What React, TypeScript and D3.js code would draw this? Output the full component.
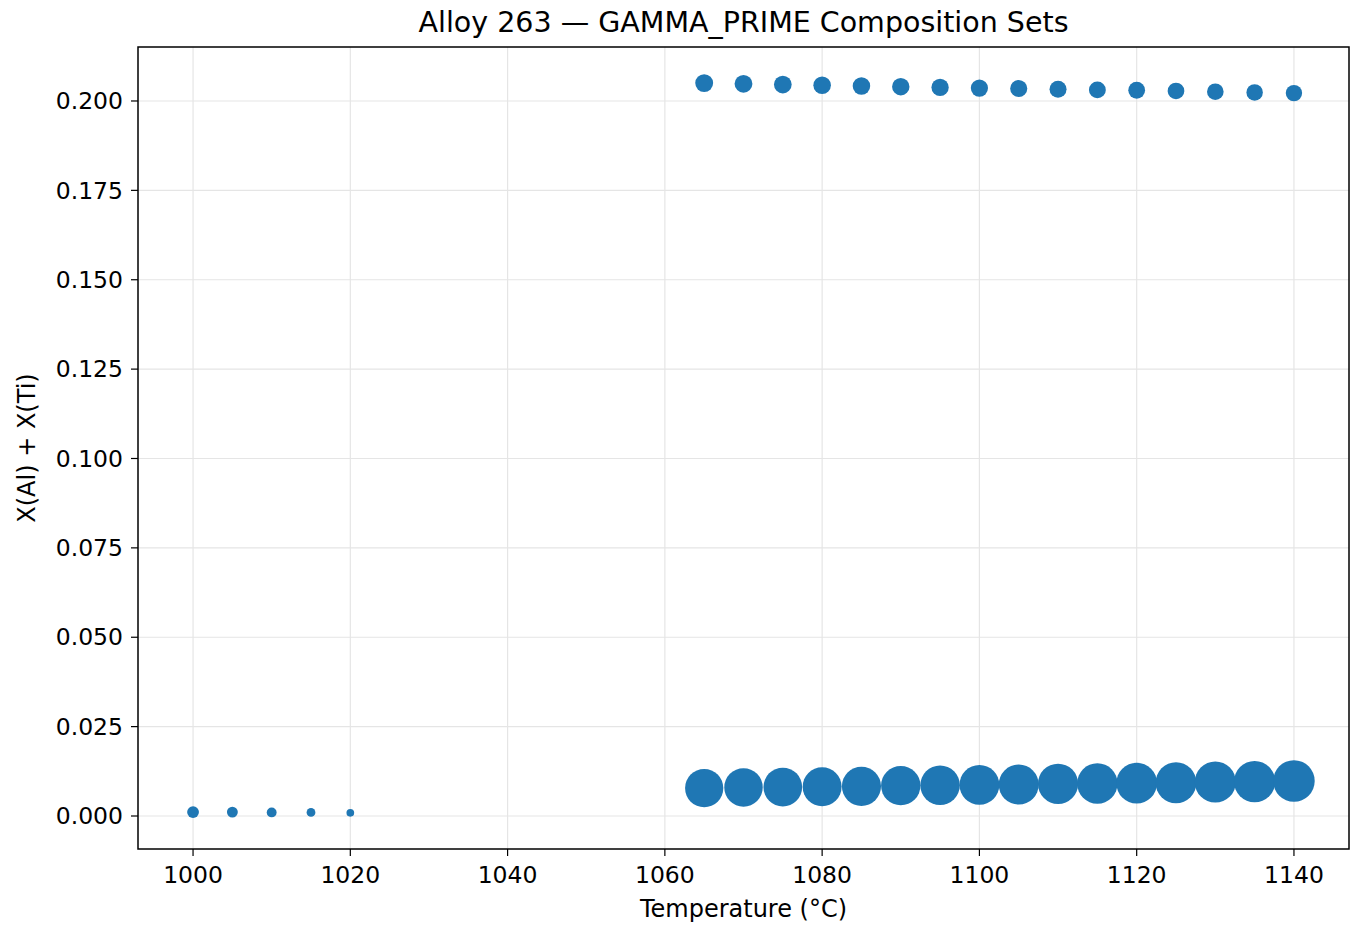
import * as d3 from "d3";

// temperatures (°C)
const lowTemps = [1000, 1005, 1010, 1015, 1020];
const lowX = [0.0011, 0.0011, 0.0010, 0.0010, 0.0009];
const lowFrac = [0.040, 0.034, 0.028, 0.022, 0.017];

const highTemps = [1065, 1070, 1075, 1080, 1085, 1090, 1095, 1100, 1105, 1110, 1115, 1120, 1125, 1130, 1135, 1140];
const setAX = [0.2050, 0.2048, 0.2046, 0.2044, 0.2042, 0.2040, 0.2038, 0.2036, 0.2035, 0.2033, 0.2031, 0.2030, 0.2028, 0.2026, 0.2024, 0.2022];
const setAFrac = [0.092, 0.091, 0.090, 0.089, 0.088, 0.087, 0.086, 0.085, 0.084, 0.083, 0.082, 0.081, 0.080, 0.079, 0.078, 0.077];
const setBX = [0.0078, 0.0080, 0.0081, 0.0082, 0.0083, 0.0085, 0.0086, 0.0087, 0.0088, 0.0090, 0.0091, 0.0092, 0.0093, 0.0095, 0.0096, 0.0098];
const setBFrac = [0.42, 0.425, 0.43, 0.435, 0.44, 0.445, 0.45, 0.455, 0.46, 0.465, 0.47, 0.475, 0.48, 0.485, 0.49, 0.495];

const xTicks = [1000, 1020, 1040, 1060, 1080, 1100, 1120, 1140];
const yTicks = [0, 0.025, 0.05, 0.075, 0.1, 0.125, 0.15, 0.175, 0.2];

export default function App() {
  const W = 1366, H = 935;
  const m = { left: 138, right: 1349, top: 47, bottom: 849 };
  const x = d3.scaleLinear().domain([993, 1147]).range([m.left, m.right]);
  const y = d3.scaleLinear().domain([-0.00923, 0.2151]).range([m.bottom, m.top]);
  const r = d3.scaleSqrt().domain([0, 1]).range([0, 29.5]);
  const color = "#1f77b4";
  const font = "DejaVu Sans, sans-serif";

  const pts = [
    ...lowTemps.map((t, i) => ({ t, v: lowX[i], f: lowFrac[i] })),
    ...highTemps.map((t, i) => ({ t, v: setAX[i], f: setAFrac[i] })),
    ...highTemps.map((t, i) => ({ t, v: setBX[i], f: setBFrac[i] })),
  ];

  return (
    <svg width={W} height={H} style={{ position: "absolute", left: 0, top: 0 }} fontFamily={font}>
      <rect width={W} height={H} fill="white" />
      <defs>
        <clipPath id="plot">
          <rect x={m.left} y={m.top} width={m.right - m.left} height={m.bottom - m.top} />
        </clipPath>
      </defs>
      {xTicks.map((t) => (
        <line key={"gx" + t} x1={x(t)} x2={x(t)} y1={m.top} y2={m.bottom} stroke="#e5e5e5" strokeWidth={1.2} />
      ))}
      {yTicks.map((t) => (
        <line key={"gy" + t} x1={m.left} x2={m.right} y1={y(t)} y2={y(t)} stroke="#e5e5e5" strokeWidth={1.2} />
      ))}
      <g clipPath="url(#plot)">
        {pts.map((p, i) => (
          <circle key={i} cx={x(p.t)} cy={y(p.v)} r={r(p.f)} fill={color} />
        ))}
      </g>
      <rect x={m.left} y={m.top} width={m.right - m.left} height={m.bottom - m.top} fill="none" stroke="black" strokeWidth={1.5} />
      {xTicks.map((t) => (
        <g key={"tx" + t}>
          <line x1={x(t)} x2={x(t)} y1={m.bottom} y2={m.bottom + 7} stroke="black" strokeWidth={1.2} />
          <text x={x(t)} y={m.bottom + 34} textAnchor="middle" fontSize={23.5}>{t}</text>
        </g>
      ))}
      {yTicks.map((t) => (
        <g key={"ty" + t}>
          <line x1={m.left - 7} x2={m.left} y1={y(t)} y2={y(t)} stroke="black" strokeWidth={1.2} />
          <text x={m.left - 15} y={y(t)} dy="0.35em" textAnchor="end" fontSize={23.5}>{d3.format(".3f")(t)}</text>
        </g>
      ))}
      <text x={(m.left + m.right) / 2} y={32} textAnchor="middle" fontSize={28.5}>Alloy 263 — GAMMA_PRIME Composition Sets</text>
      <text x={(m.left + m.right) / 2} y={917} textAnchor="middle" fontSize={24}>Temperature (°C)</text>
      <text transform={`translate(35,${(m.top + m.bottom) / 2}) rotate(-90)`} textAnchor="middle" fontSize={24}>X(Al) + X(Ti)</text>
    </svg>
  );
}
